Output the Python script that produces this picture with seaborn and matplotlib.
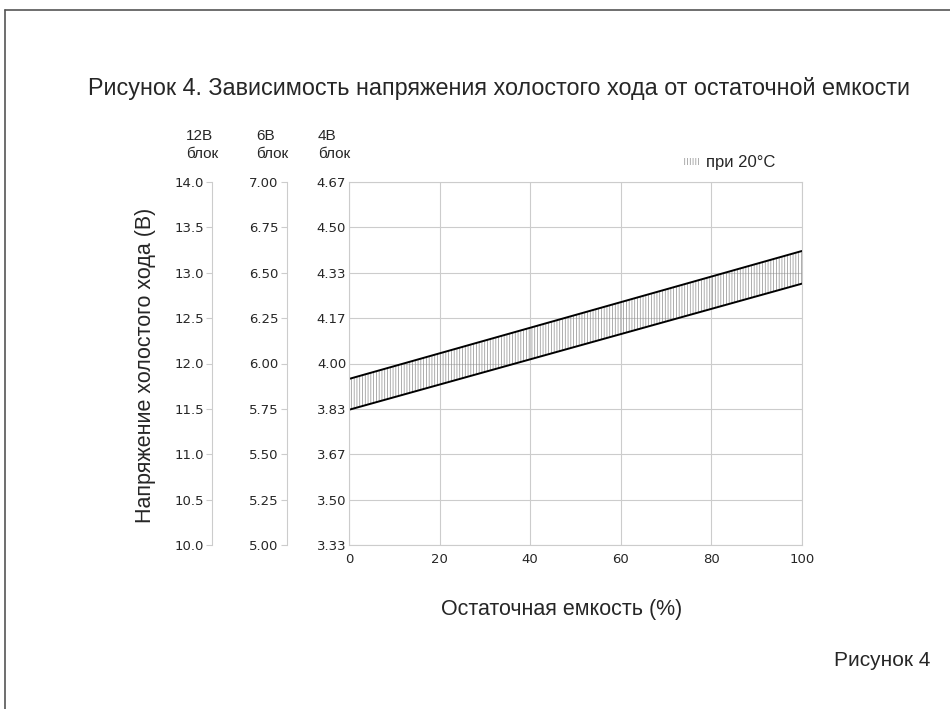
import numpy as np
import pandas as pd
import matplotlib
matplotlib.use('Agg')
import matplotlib.pyplot as plt
import seaborn as sns
from matplotlib.lines import Line2D

# Data (12 V block scale)
capacity = [0, 100]
upper_12v = [11.83, 13.24]
lower_12v = [11.49, 12.88]

ticks_12v = [10.0, 10.5, 11.0, 11.5, 12.0, 12.5, 13.0, 13.5, 14.0]
labels_12v = ['10.0', '10.5', '11.0', '11.5', '12.0', '12.5', '13.0', '13.5', '14.0']
labels_6v = ['5.00', '5.25', '5.50', '5.75', '6.00', '6.25', '6.50', '6.75', '7.00']
labels_4v = ['3.33', '3.50', '3.67', '3.83', '4.00', '4.17', '4.33', '4.50', '4.67']
x_ticks = [0, 20, 40, 60, 80, 100]

title = 'Рисунок 4. Зависимость напряжения холостого хода от остаточной емкости'
ylabel = 'Напряжение холостого хода (В)'
xlabel = 'Остаточная емкость (%)'
legend_label = 'при 20°C'

sns.set_style('white')
plt.rcParams['font.family'] = ['Liberation Sans', 'DejaVu Sans']
plt.rcParams['hatch.linewidth'] = 0.5

df = pd.DataFrame({'capacity': capacity, 'upper': upper_12v, 'lower': lower_12v})

fig = plt.figure(figsize=(9.5, 7.09), dpi=100)
ax = fig.add_axes([349 / 950, 1 - 545 / 709, 453 / 950, 363 / 709])

grid_c = '#cccccc'
tick_font = dict(family='DejaVu Sans', size=9.5)

# Band between the two lines
ax.fill_between(df['capacity'], df['lower'], df['upper'], facecolor='none',
                edgecolor='#8c8c8c', hatch='||||||', linewidth=0, label=legend_label)
sns.lineplot(data=df, x='capacity', y='upper', color='black', linewidth=1.4, ax=ax)
sns.lineplot(data=df, x='capacity', y='lower', color='black', linewidth=1.4, ax=ax)

ax.set_xlim(0, 100)
ax.set_ylim(10, 14)
ax.set_xticks(x_ticks, [str(v) for v in x_ticks], **tick_font)
ax.set_yticks(ticks_12v, labels_4v, **tick_font)
ax.tick_params(axis='both', length=0, pad=2)
ax.tick_params(axis='x', pad=6)
ax.grid(True, color=grid_c, linewidth=0.8)
ax.set_axisbelow(True)
for s in ax.spines.values():
    s.set_color(grid_c)
    s.set_linewidth(0.8)
ax.set_xlabel('')
ax.set_ylabel('')

# Extra voltage scales on the left
for loc, labels in [(-0.137, labels_6v), (-0.302, labels_12v)]:
    sec = ax.secondary_yaxis(loc, functions=(lambda v: v, lambda v: v))
    sec.set_yticks(ticks_12v, labels=labels)
    for t in sec.get_yticklabels():
        t.set_fontfamily('DejaVu Sans')
        t.set_fontsize(9.5)
    sec.tick_params(axis='y', length=4, width=0.8, color=grid_c, pad=2)
    sec.spines['left'].set_color(grid_c)
    sec.spines['left'].set_linewidth(0.8)

# Column headers
for x, txt in [(186, '12В\nблок'), (256, '6В\nблок'), (318, '4В\nблок')]:
    fig.text(x / 950, 1 - 145 / 709, txt, fontsize=11, ha='left', va='center',
             linespacing=1.35)

fig.text(88 / 950, 1 - 88 / 709, title, fontsize=16.8, ha='left', va='center')
fig.text(145 / 950, 1 - 365 / 709, ylabel, fontsize=15.5, rotation=90,
         ha='center', va='center')
fig.text(562 / 950, 1 - 610 / 709, xlabel, fontsize=15.5, ha='center', va='center')
fig.text(930 / 950, 1 - 660 / 709, 'Рисунок 4', fontsize=15, ha='right', va='center')

leg = ax.legend(loc='center left', bbox_to_anchor=(676 / 950, 1 - 163 / 709),
                bbox_transform=fig.transFigure, frameon=False, fontsize=12,
                handlelength=0.9, handleheight=0.3, handletextpad=0.4,
                borderpad=0)

# Page frame
fig.add_artist(Line2D([5 / 950, 5 / 950], [0, 1 - 10 / 709], transform=fig.transFigure,
                      color='#555555', linewidth=1.2))
fig.add_artist(Line2D([5 / 950, 1], [1 - 10 / 709, 1 - 10 / 709], transform=fig.transFigure,
                      color='#555555', linewidth=1.2))

fig.savefig('out.png', dpi=100)
